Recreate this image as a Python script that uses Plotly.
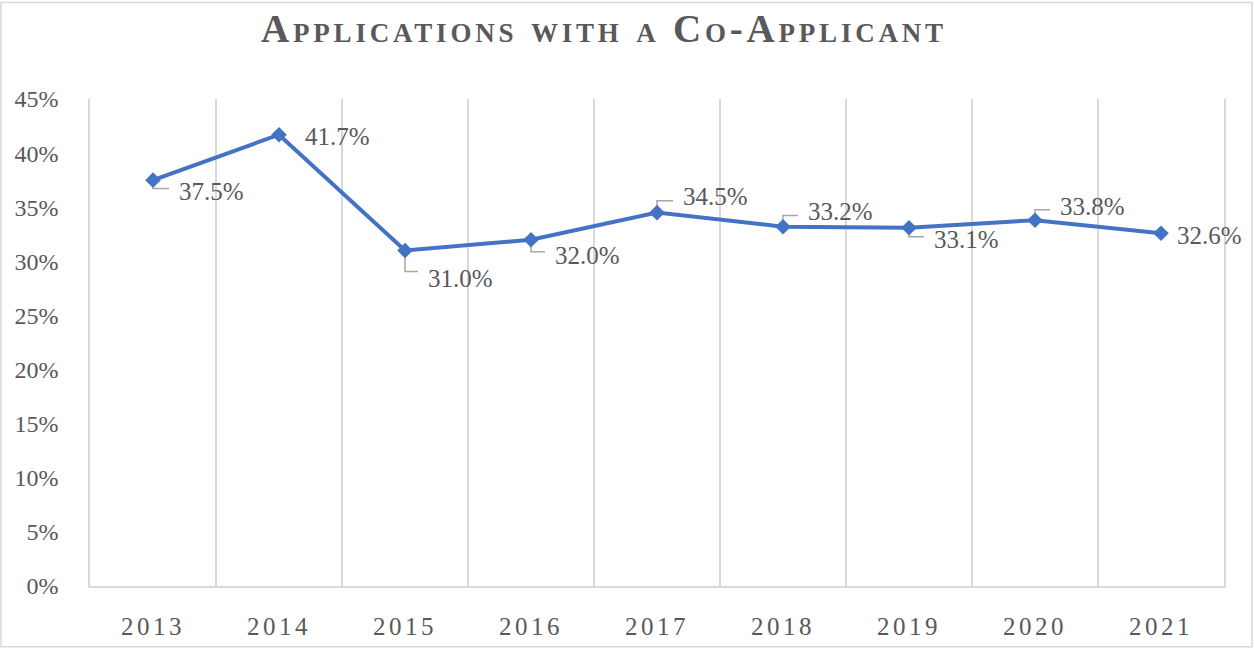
import plotly.graph_objects as go

years = ["2013", "2014", "2015", "2016", "2017", "2018", "2019", "2020", "2021"]
share = [37.5, 41.7, 31.0, 32.0, 34.5, 33.2, 33.1, 33.8, 32.6]
y_ticks = [0, 5, 10, 15, 20, 25, 30, 35, 40, 45]
# label placement: (xshift px, yshift px, leader: None / "up" / "down")
label_pos = [(24, -11, "down"), (24, -2, None), (21, -28, "down"), (22, -16, "down"),
             (24, 16, "up"), (23, 15, "up"), (23, -12, "down"), (23, 14, "up"), (14, -2, None)]

W, H = 1254, 652
ML, MR, MT, MB = 90, 30, 99, 63
PW, PH = W - ML - MR, H - MT - MB

BLUE = "#4472c4"
GRID = "#d9d9d9"
TXT = "#595959"
FONT = "Liberation Serif"

xs = list(range(len(years)))
fig = go.Figure()
fig.add_trace(go.Scatter(
    x=xs, y=share, mode="lines+markers",
    line=dict(color=BLUE, width=4),
    marker=dict(symbol="diamond", size=12, color=BLUE),
    hoverinfo="skip", showlegend=False,
))

annotations = []
shapes = []
for i, v in enumerate(share):
    dx, dy, leader = label_pos[i]
    annotations.append(dict(
        x=i, y=v, xref="x", yref="y", text=f"{v:.1f}%", showarrow=False,
        xanchor="left", yanchor="middle", xshift=dx, yshift=dy,
        font=dict(family=FONT, size=25, color=TXT),
    ))
    if leader:
        ly = dy * 0.75
        hx = dx - 8
        shapes.append(dict(type="path", xref="x", yref="y", xsizemode="pixel", ysizemode="pixel",
                           xanchor=i, yanchor=v,
                           path=f"M 0,0 L 0,{ly} L {hx},{ly}",
                           line=dict(color="#a6a6a6", width=1.5), layer="below"))

# outer chart border
shapes.append(dict(type="rect", xref="paper", yref="paper",
                   x0=(1 - ML) / PW, x1=(W - 2 - ML) / PW,
                   y0=-(MB - 2) / PH, y1=1 + (MT - 2) / PH,
                   line=dict(color=GRID, width=1.5), fillcolor="rgba(0,0,0,0)", layer="below"))

title_txt = '<span style="letter-spacing:3.8px">Applications with a Co-Applicant</span>'

fig.update_layout(
    width=W, height=H,
    margin=dict(l=ML, r=MR, t=MT, b=MB),
    paper_bgcolor="white", plot_bgcolor="white",
    title=dict(text=title_txt, xref="container", yref="container",
               x=604 / W, y=1 - 28 / H, xanchor="center", yanchor="middle",
               font=dict(family=FONT, size=39, color=TXT, weight="bold", variant="small-caps")),
    xaxis=dict(range=[-0.5, len(years) - 0.5], tickmode="array", tickvals=xs,
               ticktext=[f'<span style="letter-spacing:3.5px">{y}</span>' for y in years],
               showgrid=False, zeroline=False,
               showline=True, linecolor=GRID, linewidth=1.5, ticks="", ticklabelstandoff=17,
               tickfont=dict(family=FONT, size=25, color=TXT),
               minor=dict(tickmode="array", tickvals=[k + 0.5 for k in range(len(years) - 1)],
                          showgrid=True, gridcolor=GRID, gridwidth=1.5, ticks="")),
    yaxis=dict(range=[0, 45], tickmode="array", tickvals=y_ticks,
               ticktext=[f"{t}%" for t in y_ticks], showgrid=False, zeroline=False,
               showline=True, mirror=True, linecolor=GRID, linewidth=1.5, ticks="",
               ticklabelstandoff=25, tickfont=dict(family=FONT, size=24, color=TXT)),
    annotations=annotations, shapes=shapes,
)
fig.write_html("out.html", config={"displayModeBar": False},
               post_script="document.body.style.margin='0';document.body.style.overflow='hidden';")
